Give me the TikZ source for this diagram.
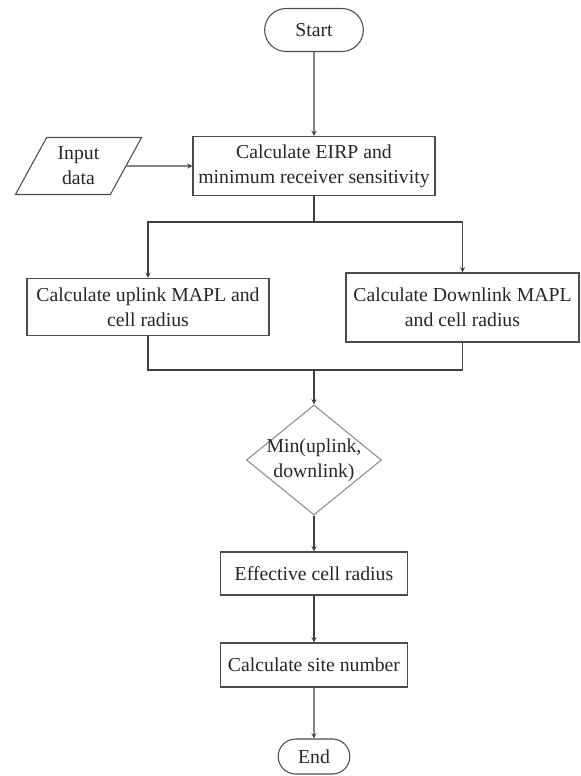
\documentclass[tikz,border=0pt]{standalone}
\usepackage{fontspec}
\setmainfont{Liberation Serif}
\usepackage{tikz}
\usetikzlibrary{calc, positioning, arrows.meta, shapes.geometric, shapes.misc}

\begin{document}
\begin{tikzpicture}[
        x=0.75pt, y=-0.75pt,
        every node/.style={font=\fontsize{14.8}{18.8}\selectfont, text=black!85},
        box/.style={draw=black!70, rectangle, thick, align=center, inner sep=2pt},
        term/.style={draw=black!70, rounded rectangle, thick, inner sep=2pt},
        io/.style={draw=black!70, trapezium, trapezium left angle=62, trapezium right angle=118, trapezium stretches=true, thick, align=center, inner sep=1pt},
        decide/.style={draw=black!45, diamond, thick, inner sep=0pt},
        arrow/.style={->, >=stealth, thick, draw=black!75},
        line/.style={thick, draw=black!75}
    ]
        \useasboundingbox (0,0) rectangle (581,776);

        % Nodes
        \node[term, minimum width=78pt, minimum height=32.25pt] (start) at (314,30) {Start};
        \node[box, minimum width=181.5pt, minimum height=44.25pt] (eirp) at (314,166) {Calculate EIRP and\\minimum receiver sensitivity};
        \node[io, minimum width=95.25pt, minimum height=42.75pt] (input) at (78.5,166) {Input\\data};
        \node[box, minimum width=181.5pt, minimum height=42.75pt] (uplink) at (148,307) {Calculate uplink MAPL and\\cell radius};
        \node[box, minimum width=174.75pt, minimum height=51.75pt] (downlink) at (462.5,307.5) {Calculate Downlink MAPL\\and cell radius};
        \node[decide, minimum width=101.25pt, minimum height=82.5pt] (minfn) at (314,460) {};
        \node[align=center, inner sep=0pt] (minlabel) at (minfn.center) {Min(uplink,\\downlink)};
        \node[box, minimum width=140.25pt, minimum height=32.25pt] (effective) at (314,573.5) {Effective cell radius};
        \node[box, minimum width=140.25pt, minimum height=33pt] (site) at (314,665) {Calculate site number};
        \node[term, minimum width=57.75pt, minimum height=26.25pt] (end) at (314,756.5) {End};

        % Junction points
        \coordinate (split) at (314,222);
        \coordinate (merge) at (314,370);

        % Top part
        \draw[arrow] (start) -- (eirp);
        \draw[arrow] (input.east) -- (eirp.west);

        % Split to uplink / downlink
        \draw[line] (eirp.south) -- (split);
        \draw[arrow] (split) -| (uplink.north);
        \draw[arrow] (split) -| (downlink.north);

        % Merge into the minimum
        \draw[line] (uplink.south) |- (merge);
        \draw[line] (downlink.south) |- (merge);
        \draw[arrow] (merge) -- (minfn.north);

        % Bottom part
        \draw[arrow] (minfn.south) -- (effective.north);
        \draw[arrow] (effective) -- (site);
        \draw[arrow] (site) -- (end);

    \end{tikzpicture}
\end{document}
